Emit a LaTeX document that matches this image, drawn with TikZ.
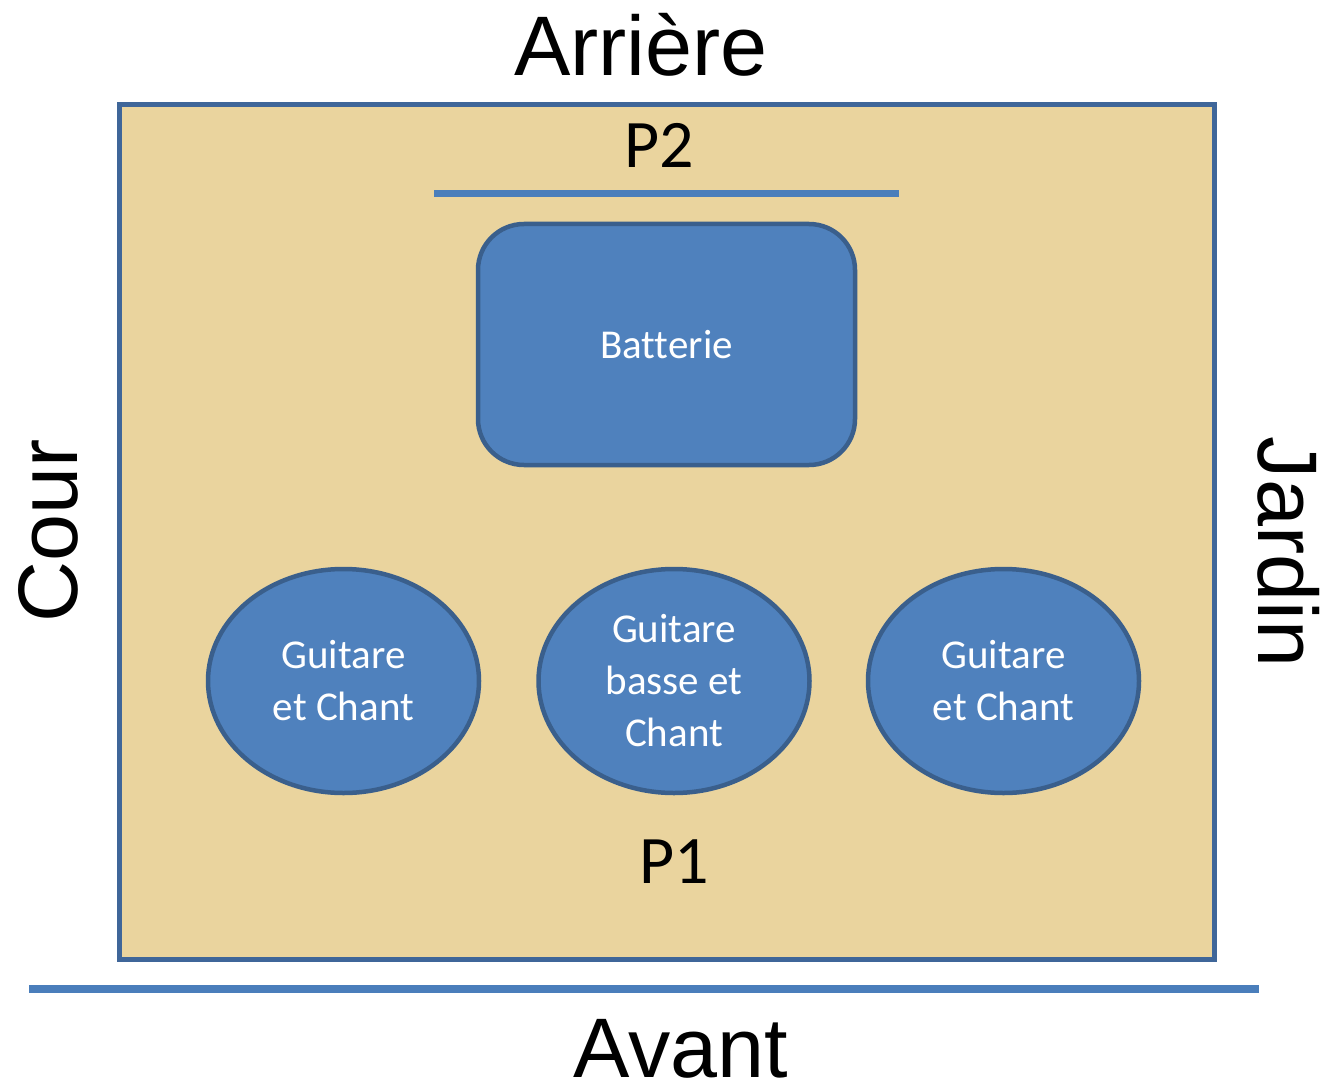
\documentclass[tikz,border=0pt]{standalone}
\usepackage{fontspec}
\setmainfont{Carlito}[Ligatures=NoCommon]
\newfontfamily\arialf{Liberation Sans}
\usetikzlibrary{shapes.geometric}
\definecolor{stagefill}{HTML}{EAD49E}
\definecolor{stageedge}{HTML}{3F6699}
\definecolor{boxfill}{HTML}{4F81BD}
\definecolor{boxedge}{HTML}{3A5F8C}
\definecolor{linecol}{HTML}{4A7EBB}
\begin{document}
\begin{tikzpicture}[x=1pt,y=-1pt,
  side/.style={font=\arialf\fontsize{84.5}{84.5}\selectfont, inner sep=0pt, anchor=base},
  plabel/.style={font=\fontsize{68}{68}\selectfont, inner sep=0pt, anchor=base},
  inst/.style={fill=boxfill, draw=boxedge, line width=4.5pt, text=white,
    font=\fontsize{41}{52}\selectfont, align=center, inner sep=0pt},
  guit/.style={inst, ellipse, minimum width=271pt, minimum height=224pt},
  markline/.style={draw=linecol, line width=7pt}]
\useasboundingbox (0,0) rectangle (1337,1083);
% stage
\draw[fill=stagefill, draw=stageedge, line width=5pt] (119.5,104.5) rectangle (1214.5,959.5);
% edge labels
\node[side] (arriere) at (641,76) {Arrière};
\node[side] (avant) at (681,1077) {Avant};
\node[side, rotate=90] (cour) at (77,531) {Cour};
\node[side, rotate=-90] (jardin) at (1258,552) {Jardin};
% lines
\coordinate (p2l) at (434,193.5);
\coordinate (p2r) at (899,193.5);
\draw[markline, line width=6.5pt] (p2l) -- (p2r);
\coordinate (avl) at (29,989);
\coordinate (avr) at (1259,989);
\draw[markline, line width=8pt] (avl) -- (avr);
% P labels
\node[plabel] (p2) at (659,168) {P2};
\node[plabel] (p1) at (674,883) {P1};
% instruments
\node[inst, rounded corners=46pt, minimum width=377pt, minimum height=241pt] (batt) at (666.5,344.5) {Batterie};
\node[guit] (g1) at (343.5,681) {Guitare\\et Chant};
\node[guit] (g2) at (674,681) {Guitare\\basse et\\Chant};
\node[guit] (g3) at (1003.5,681) {Guitare\\et Chant};
\end{tikzpicture}
\end{document}
